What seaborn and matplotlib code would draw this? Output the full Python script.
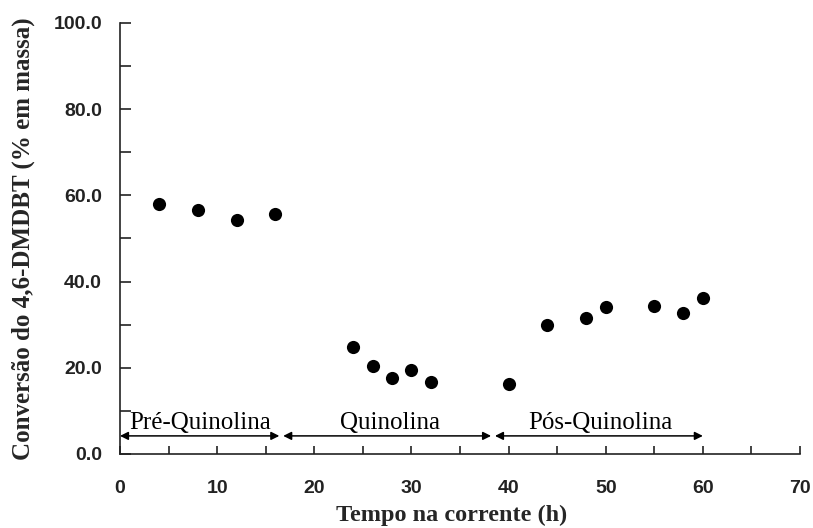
import matplotlib
matplotlib.use("Agg")
import matplotlib.pyplot as plt
import seaborn as sns
import pandas as pd
from matplotlib.ticker import MultipleLocator, FormatStrFormatter

tempo = [4, 8, 12, 16, 24, 26, 28, 30, 32, 40, 44, 48, 50, 55, 58, 60]
conversao = [57.9, 56.7, 54.3, 55.7, 24.9, 20.4, 17.7, 19.6, 16.8, 16.3,
             29.9, 31.5, 34.0, 34.4, 32.7, 36.1]
fases = ["Pré-Quinolina", "Quinolina", "Pós-Quinolina"]
fase_inicio = [0, 16.8, 38.6]
fase_fim = [16.4, 38.2, 60]
fase_texto_x = [8.2, 27.8, 49.4]

df = pd.DataFrame({"tempo": tempo, "conv": conversao})

sns.set_style("white")
plt.rcParams['font.family'] = ['Liberation Sans', 'DejaVu Sans']
serif = ['Liberation Serif', 'DejaVu Serif']

fig = plt.figure(figsize=(8.13, 5.28), dpi=100)
ax = fig.add_axes([120/813, 74/528, 680/813, 431/528])

sns.scatterplot(data=df, x="tempo", y="conv", ax=ax, color="black",
                s=90, edgecolor="black", linewidth=0, zorder=3)

ax.set_xlim(0, 70)
ax.set_ylim(0, 100)
ax.xaxis.set_major_locator(MultipleLocator(10))
ax.xaxis.set_minor_locator(MultipleLocator(5))
ax.yaxis.set_major_locator(MultipleLocator(20))
ax.yaxis.set_minor_locator(MultipleLocator(10))
ax.yaxis.set_major_formatter(FormatStrFormatter('%.1f'))

for s in ["top", "right"]:
    ax.spines[s].set_visible(False)
for s in ["left", "bottom"]:
    ax.spines[s].set_color("#222222")
    ax.spines[s].set_linewidth(1.2)

ax.tick_params(axis='both', which='both', direction='in', color="#222222",
               width=1.2, bottom=True, left=True)
ax.tick_params(axis='x', which='both', length=6, pad=19)
ax.tick_params(axis='y', which='both', length=8, pad=13)
for lab in ax.get_xticklabels() + ax.get_yticklabels():
    lab.set_fontsize(14)
    lab.set_fontweight('bold')
    lab.set_color("#222222")

ax.set_xlabel("Tempo na corrente (h)", family=serif, fontsize=17.5, fontweight='bold')
ax.set_ylabel("Conversão do 4,6-DMDBT (% em massa)", family=serif,
              fontsize=18, fontweight='bold')
ax.xaxis.label.set_va('top')
ax.xaxis.set_label_coords(0.488, -0.118)
ax.yaxis.label.set_va('center')
ax.yaxis.set_label_coords(-0.1426, 0.5)

for nome, a, b, tx in zip(fases, fase_inicio, fase_fim, fase_texto_x):
    ax.annotate("", xy=(a, 4.2), xytext=(b, 4.2),
                arrowprops=dict(arrowstyle="<|-|>", color="black", lw=1.1,
                                mutation_scale=12, shrinkA=0, shrinkB=0))
    ax.text(tx, 5.8, nome, ha='center', va='baseline', fontsize=18,
            family=serif, color="black")

fig.savefig("out.png", dpi=100)
